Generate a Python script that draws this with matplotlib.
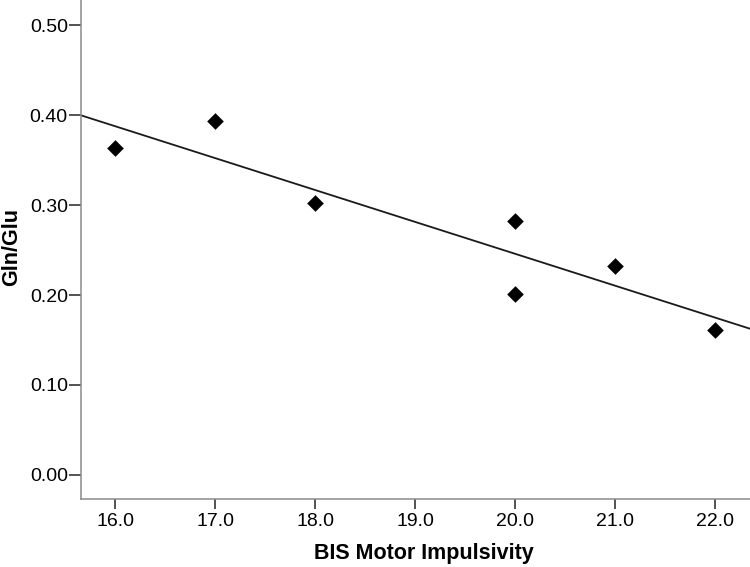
import numpy as np
import matplotlib
matplotlib.use("Agg")
import matplotlib.pyplot as plt

plt.rcParams["font.family"] = ["Liberation Sans", "DejaVu Sans"]

# values
bis_motor = [16.0, 17.0, 18.0, 20.0, 20.0, 21.0, 22.0]
gln_glu = [0.363, 0.393, 0.302, 0.282, 0.201, 0.232, 0.161]

xticks = [16.0, 17.0, 18.0, 19.0, 20.0, 21.0, 22.0]
yticks = [0.00, 0.10, 0.20, 0.30, 0.40, 0.50]

fig = plt.figure(figsize=(7.5, 5.67), dpi=100)
ax = fig.add_axes([0.108, 0.12, 0.892, 0.88])

ax.scatter(bis_motor, gln_glu, marker="D", s=72, color="black", linewidths=0, zorder=3)

# linear fit line across the full x range
slope, icpt = np.polyfit(bis_motor, gln_glu, 1)
xlim = (15.66, 22.35)
xs = np.array(xlim)
ax.plot(xs, slope * xs + icpt, color="#1a1a1a", lw=1.3, zorder=2)

ax.set_xlim(*xlim)
ax.set_ylim(-0.0267, 0.528)
ax.set_xticks(xticks)
ax.set_xticklabels([f"{t:.1f}" for t in xticks])
ax.set_yticks(yticks)
ax.set_yticklabels([f"{t:.2f}" for t in yticks])

for side in ["top", "right"]:
    ax.spines[side].set_visible(False)
for side in ["left", "bottom"]:
    ax.spines[side].set_color("#8a8a8a")
    ax.spines[side].set_linewidth(1.1)

ax.tick_params(axis="y", length=8.5, width=1.3, color="#444444", labelsize=14, pad=1)
ax.tick_params(axis="x", length=7, width=1.3, color="#444444", labelsize=14, pad=3)

ax.set_xlabel("BIS Motor Impulsivity", fontsize=15.5, fontweight="bold",
              va="center", ha="center")
ax.xaxis.set_label_coords(0.513, -0.11)
ax.set_ylabel("Gln/Glu", fontsize=15.5, fontweight="bold",
              va="center", ha="center")
ax.yaxis.set_label_coords(-0.104, 0.505)

fig.savefig("out.png", dpi=100)
